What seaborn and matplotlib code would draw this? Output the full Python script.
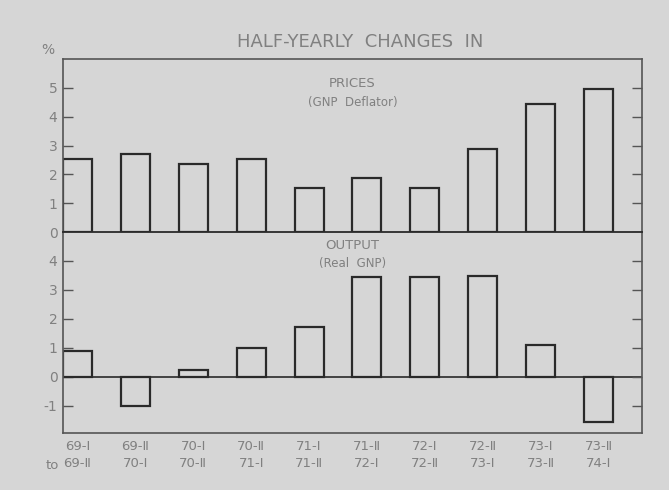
import matplotlib
matplotlib.use("Agg")
import matplotlib.pyplot as plt
import seaborn as sns
import pandas as pd

periods = ["69-Ⅰ\n69-Ⅱ", "69-Ⅱ\n70-Ⅰ", "70-Ⅰ\n70-Ⅱ", "70-Ⅱ\n71-Ⅰ", "71-Ⅰ\n71-Ⅱ",
           "71-Ⅱ\n72-Ⅰ", "72-Ⅰ\n72-Ⅱ", "72-Ⅱ\n73-Ⅰ", "73-Ⅰ\n73-Ⅱ", "73-Ⅱ\n74-Ⅰ"]
prices = [2.52, 2.70, 2.37, 2.52, 1.52, 1.87, 1.51, 2.88, 4.45, 4.97]
output = [0.87, -1.01, 0.22, 0.99, 1.72, 3.46, 3.46, 3.49, 1.09, -1.57]
price_ticks = [0, 1, 2, 3, 4, 5]
output_ticks = [-1, 0, 1, 2, 3, 4]

sns.set_theme(style="white")
plt.rcParams['font.family'] = ['DejaVu Sans']

bg = "#d6d6d6"
txt = "#808080"
edge = "#2a2a2a"
spine_c = "#555555"

fig = plt.figure(figsize=(6.69, 4.90), dpi=100)
fig.patch.set_facecolor(bg)

L, W = 0.0942, 0.8654
ax1 = fig.add_axes([L, 0.5265, W, 0.3531])
ax2 = fig.add_axes([L, 0.1163, W, 0.4102])

df_p = pd.DataFrame({"period": periods, "value": prices})
df_o = pd.DataFrame({"period": periods, "value": output})

for ax, df in ((ax1, df_p), (ax2, df_o)):
    ax.set_facecolor(bg)
    sns.barplot(data=df, x="period", y="value", fill=False, width=0.5,
                edgecolor=edge, linewidth=1.6, ax=ax, errorbar=None)
    ax.set_xlim(-0.25, 9.75)
    ax.set_xlabel("")
    ax.set_ylabel("")
    for s in ax.spines.values():
        s.set_color(spine_c)
        s.set_linewidth(1.2)
    ax.tick_params(axis="y", direction="in", length=7, width=1.0, color=spine_c,
                   left=True, right=True, labelsize=10, labelcolor=txt, pad=4)

ax1.set_ylim(0, 6.0)
ax1.set_yticks(price_ticks)
ax1.set_yticklabels([str(t) for t in price_ticks])
ax1.set_xticks([])
ax1.spines["bottom"].set_visible(False)

ax2.set_ylim(-1.95, 5.0)
ax2.set_yticks(output_ticks)
ax2.set_yticklabels([str(t) for t in output_ticks])
ax2.axhline(0, color=edge, linewidth=1.2, zorder=0.5)
ax2.tick_params(axis="x", length=0, labelsize=9.5, labelcolor=txt, pad=5)
for lbl in ax2.get_xticklabels():
    lbl.set_linespacing(1.45)
ax2.spines["top"].set_linewidth(1.3)
ax2.spines["top"].set_color(edge)

ax1.text(0.5, 0.861, "PRICES", transform=ax1.transAxes, ha="center", va="center",
         fontsize=9.5, color=txt)
ax1.text(0.5, 0.746, "(GNP  Deflator)", transform=ax1.transAxes, ha="center", va="center",
         fontsize=8.5, color=txt)
ax2.text(0.5, 0.935, "OUTPUT", transform=ax2.transAxes, ha="center", va="center",
         fontsize=9.5, color=txt)
ax2.text(0.5, 0.845, "(Real  GNP)", transform=ax2.transAxes, ha="center", va="center",
         fontsize=8.5, color=txt)

fig.text(0.538, 0.914, "HALF-YEARLY  CHANGES  IN", ha="center", va="center",
         fontsize=13, color=txt)
fig.text(0.072, 0.898, "%", ha="center", va="center", fontsize=10, color=txt)
fig.text(0.078, 0.051, "to", ha="center", va="center", fontsize=9.5, color=txt)

fig.savefig("out.png", dpi=100, facecolor=bg)
